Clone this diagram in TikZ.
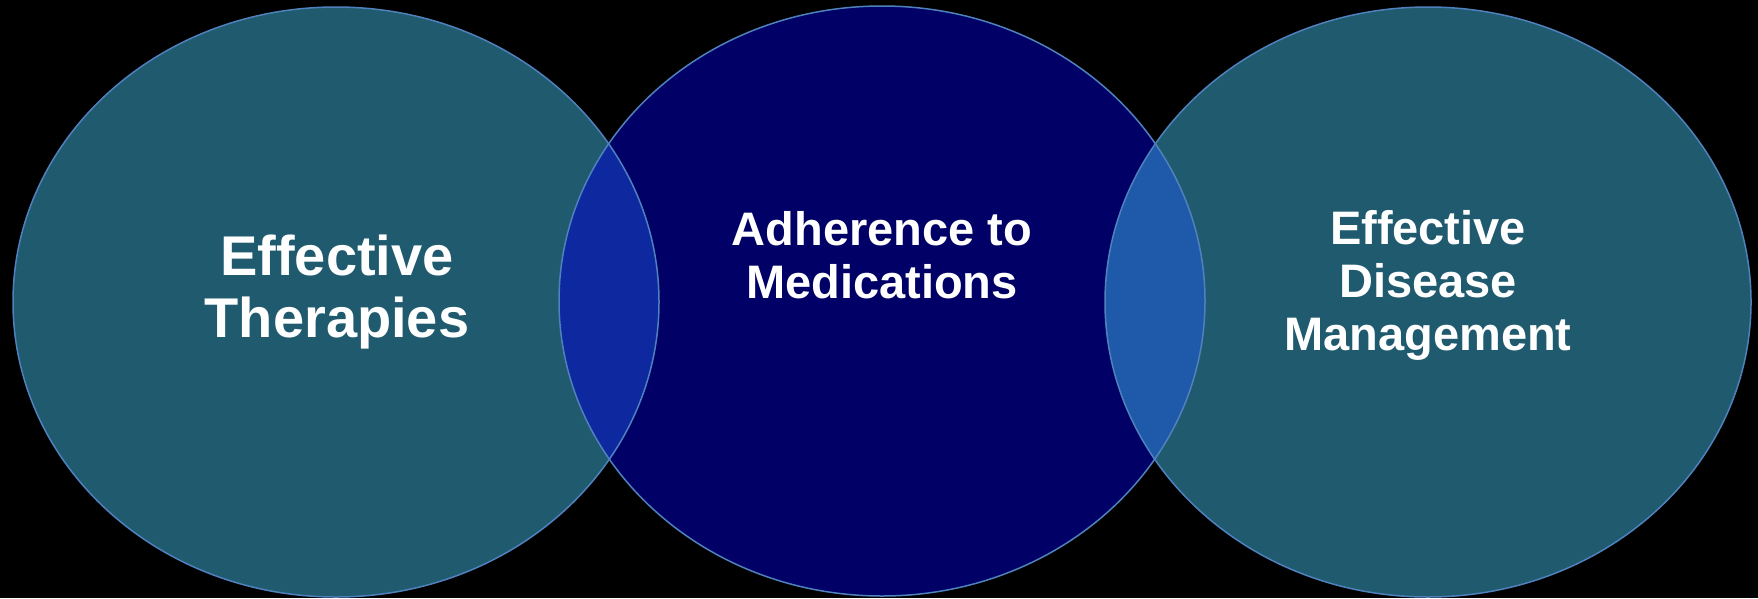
\documentclass[tikz,border=0pt]{standalone}
\usepackage{fontspec}
\setmainfont{Liberation Sans}
\usetikzlibrary{shapes.geometric}

\definecolor{ringteal}{RGB}{31,90,110}
\definecolor{ringnavy}{RGB}{0,0,102}
\definecolor{lensleft}{RGB}{14,40,160}
\definecolor{lensright}{RGB}{31,90,170}
\definecolor{ringline}{RGB}{79,129,189}

\tikzset{
  ring/.style={ellipse, minimum width=646pt, minimum height=590pt, inner sep=0pt},
  rimline/.style={draw=ringline, line width=1.5pt},
  bigtext/.style={text=white, align=center, font=\fontsize{56}{62}\selectfont\bfseries},
  midtext/.style={text=white, align=center, font=\fontsize{47}{53}\selectfont\bfseries}
}

\begin{document}
\begin{tikzpicture}[x=1pt,y=-1pt]
	\fill[black] (0,0) rectangle (1758,598);
	\useasboundingbox (0,0) rectangle (1758,598);

	% the three circles
	\node[ring, fill=ringteal] (therapies) at (336,302) {};
	\node[ring, fill=ringnavy] (adherence) at (882,301) {};
	\node[ring, fill=ringteal] (management) at (1428,302) {};

	% overlaps
	\begin{scope}
		\clip (336,302) ellipse [x radius=323, y radius=295];
		\fill[lensleft] (882,301) ellipse [x radius=323, y radius=295];
	\end{scope}
	\begin{scope}
		\clip (1428,302) ellipse [x radius=323, y radius=295];
		\fill[lensright] (882,301) ellipse [x radius=323, y radius=295];
	\end{scope}

	% outlines
	\node[ring, rimline] at (therapies) {};
	\node[ring, rimline] at (adherence) {};
	\node[ring, rimline] at (management) {};

	% texts
	\node[bigtext] (t-left) at (337,292) {Effective\\Therapies};
	\node[midtext] (t-mid) at (882,255) {Adherence to\\Medications};
	\node[midtext] (t-right) at (1428,285) {Effective\\Disease\\Management};
\end{tikzpicture}
\end{document}
